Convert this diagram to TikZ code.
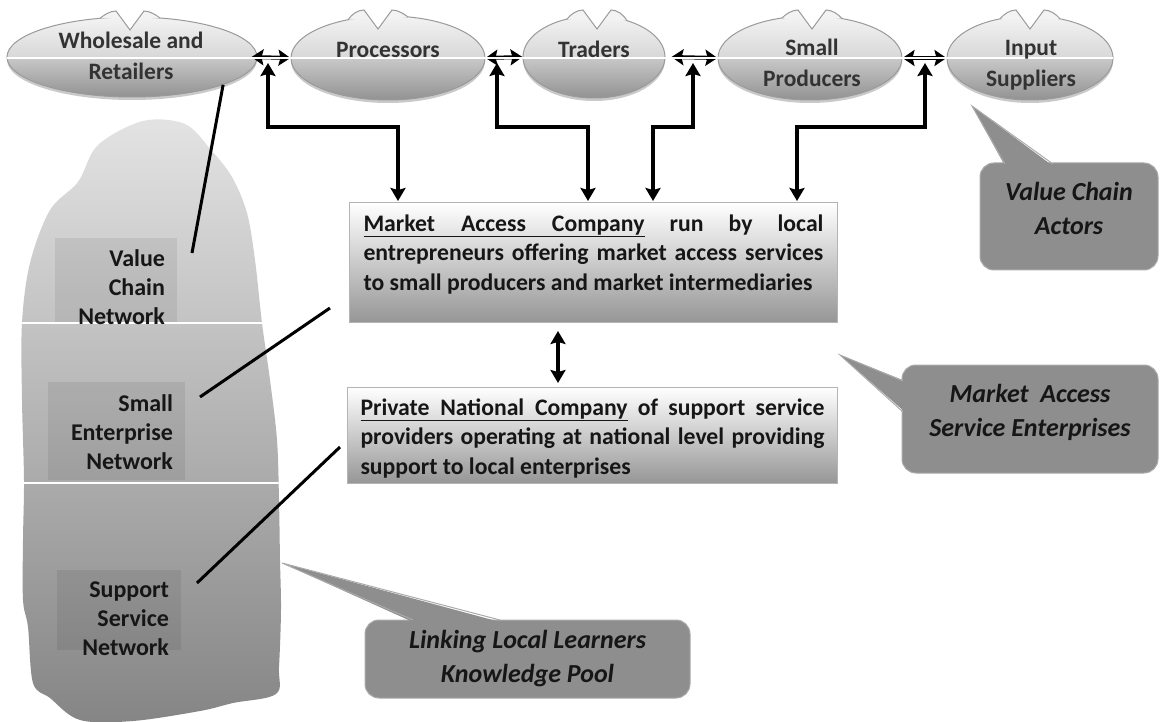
\documentclass[tikz,border=0pt]{standalone}
\usepackage{fontspec}
\setmainfont{Carlito}
\usetikzlibrary{arrows.meta,shapes.geometric,calc,shadows}
\definecolor{e1}{HTML}{F3F3F3}
\definecolor{e2}{HTML}{D8D8D8}
\definecolor{e3}{HTML}{C8C8C8}
\definecolor{e4}{HTML}{929292}
\definecolor{edgec}{HTML}{9A9A9A}
\definecolor{txt}{HTML}{161616}
\definecolor{elltxt}{HTML}{333333}
\definecolor{boxbot}{HTML}{969696}
\definecolor{boxedge}{HTML}{B4B4B4}
\definecolor{ice1}{HTML}{E3E3E3}
\definecolor{ice2}{HTML}{858585}
\definecolor{callfill}{HTML}{8E8E8E}
\definecolor{calledge}{HTML}{AAAAAA}
\pgfdeclareverticalshading{ellsh}{100bp}{color(0bp)=(e4); color(25bp)=(e4); color(49.7bp)=(e3); color(50.3bp)=(e2); color(75bp)=(e1); color(100bp)=(e1)}
\newcommand\ellnotch[5]{%
  \pgfmathsetmacro\nLy{#2-#4*sqrt(1-((#5-30-#1)/#3)^2)}%
  \pgfmathsetmacro\nRy{#2-#4*sqrt(1-((#5+30-#1)/#3)^2)}%
  \pgfmathsetmacro\nT{#2-#4}%
  \fill[e1] ({#5-30},\nLy) .. controls ({#5-26},{\nT-2}) and ({#5-20},{\nT-6}) .. ({#5-14},{\nT-6})
     -- ({#5},{\nT+13}) -- ({#5+14},{\nT-6}) .. controls ({#5+20},{\nT-6}) and ({#5+26},{\nT-2}) .. ({#5+30},\nRy) -- cycle;
  \fill[white] ({#5-14},{\nT-6}) -- ({#5},{\nT+13}) -- ({#5+14},{\nT-6}) -- cycle;
  \draw[edgec,line width=1pt] ({#5-30},\nLy) .. controls ({#5-26},{\nT-2}) and ({#5-20},{\nT-6}) .. ({#5-14},{\nT-6})
     -- ({#5},{\nT+13}) -- ({#5+14},{\nT-6}) .. controls ({#5+20},{\nT-6}) and ({#5+26},{\nT-2}) .. ({#5+30},\nRy);
}
\tikzset{
  ell/.style={ellipse, draw=edgec, line width=1pt, shading=ellsh, inner sep=0pt,
    drop shadow={shadow xshift=0pt, shadow yshift=-3pt, opacity=.35, fill=black!60}},
  elltext/.style={inner sep=0pt, text=elltxt, font=\fontsize{23.5}{31}\selectfont\bfseries, align=center},
  dbl/.style={line width=4pt, {Stealth[length=12pt,width=16pt,inset=2pt]}-{Stealth[length=12pt,width=16pt,inset=2pt]}},
  bent/.style={line width=4.5pt, {Stealth[length=13pt,width=15pt,inset=2pt]}-{Stealth[length=13pt,width=15pt,inset=2pt]}},
  infobox/.style={draw=boxedge, line width=1pt, top color=white, bottom color=boxbot, inner sep=0pt,
    anchor=north west, text=txt, font=\fontsize{23.7}{29.5}\selectfont\bfseries},
  lab/.style={align=right, inner sep=0pt, text=txt, font=\fontsize{24}{29}\selectfont\bfseries},
  labrect/.style={fill=black, fill opacity=0.07},
  lblline/.style={line width=3pt, black},
  callout/.style={draw=calledge, line width=1pt, fill=callfill, rounded corners=14pt, text=txt,
    align=center, font=\fontsize{26}{34}\selectfont\bfseries\itshape},
  ptr/.style={fill=callfill},
  ptredge/.style={draw=calledge, line width=1pt}
}
\begin{document}
\begin{tikzpicture}[x=1pt,y=-1pt]
\useasboundingbox (0,0) rectangle (1160,722);
\fill[white] (0,0) rectangle (1160,722);

% iceberg
\shade[top color=ice1,bottom color=ice2] plot[smooth cycle,tension=0.55] coordinates {
 (143,121) (185,124) (211,150) (232,177) (247,213) (255,260) (262,323) (270,380) (277,440)
 (279,500) (280,560) (281,610) (279,667) (276,694) (233,703) (200,711) (133,721) (80,720)
 (50,698) (33,683) (28,627) (23,600) (23,540) (24,480) (22,400) (22,323) (30,263) (50,210)
 (78,182) (98,145)};
\begin{scope}
\clip plot[smooth cycle,tension=0.55] coordinates {
 (143,121) (185,124) (211,150) (232,177) (247,213) (255,260) (262,323) (270,380) (277,440)
 (279,500) (280,560) (281,610) (279,667) (276,694) (233,703) (200,711) (133,721) (80,720)
 (50,698) (33,683) (28,627) (23,600) (23,540) (24,480) (22,400) (22,323) (30,263) (50,210)
 (78,182) (98,145)};
\draw[white,line width=1.6pt] (0,323) -- (300,323);
\draw[white,line width=1.6pt] (0,483) -- (300,483);
\end{scope}
\fill[labrect] (55,238) rectangle (177,322);
\fill[labrect] (48,382) rectangle (185,480);
\fill[labrect] (57,570) rectangle (181,650);
\node[lab, text width=110] (vcn) at (110,287) {Value\\Chain\\Network};
\node[lab, text width=126] (sen) at (110,432) {Small\\Enterprise\\Network};
\node[lab, text width=110] (ssn) at (114,619) {Support\\Service\\Network};

% value chain actors
\node[ell, minimum width=250, minimum height=80] (W) at (132,57) {};
\node[ell, minimum width=194, minimum height=84] (P) at (388,58) {};
\node[ell, minimum width=142, minimum height=82] (T) at (594,57) {};
\node[ell, minimum width=184, minimum height=84] (S) at (810,58) {};
\node[ell, minimum width=166, minimum height=84] (I) at (1030,58) {};
\ellnotch{132}{57}{125}{40}{130}
\ellnotch{388}{58}{97}{42}{378}
\ellnotch{594}{57}{71}{41}{597}
\ellnotch{810}{58}{92}{42}{812}
\ellnotch{1030}{58}{83}{42}{1030}

% boxes
\node[infobox, minimum width=488, minimum height=120] (mac) at (349,202) {\parbox[c][120pt][t]{460pt}{%
  \vspace*{12pt}%
  \hbox to 460pt{\underline{\hbox to 281pt{Market\hfill Access\hfill Company}}\hfill run\hfill by\hfill local}
  \hbox to 460pt{entrepreneurs\hfill offering\hfill market\hfill access\hfill services}
  \hbox{to small producers and market intermediaries}}};
\node[infobox, minimum width=490, minimum height=96] (pnc) at (347,387) {\parbox[c][96pt][t]{464pt}{%
  \vspace*{11pt}%
  \hbox to 464pt{\underline{\hbox to 267pt{Private\hfill National\hfill Company}}\hfill of\hfill support\hfill service}
  \hbox to 464pt{providers\hfill operating\hfill at\hfill national\hfill level\hfill providing}
  \hbox{support to local enterprises}}};

% horizontal double arrows
\draw[dbl] ([xshift=-6pt]W.east) -- (P.west);
\draw[dbl] (P.east) -- (T.west);
\draw[dbl] ([xshift=6pt]T.east) -- (S.west);
\draw[dbl] (S.east) -- (I.west);

% bent arrows
\coordinate (c1) at (268,63); \coordinate (d1) at (398,0);
\coordinate (c2) at (497,63); \coordinate (d2) at (588,0);
\coordinate (c3) at (693,63); \coordinate (d3) at (653,0);
\coordinate (c4) at (925,63); \coordinate (d4) at (797,0);
\draw[bent] (c1) |- (398,127) -- ([yshift=1pt]d1 |- mac.north);
\draw[bent] (c2) |- (588,127) -- ([yshift=1pt]d2 |- mac.north);
\draw[bent] (c3) |- (653,127) -- ([yshift=1pt]d3 |- mac.north);
\draw[bent] (c4) |- (797,127) -- ([yshift=1pt]d4 |- mac.north);

% white midline through the top row
\draw[white,line width=1.2pt] (7,58) -- (1113,58);

% ellipse texts
\node[elltext] (Wt) at (131,56) {Wholesale and\\Retailers};
\node[elltext] (Pt) at (388,50) {Processors};
\node[elltext] (Tt) at (594,49) {Traders};
\node[elltext] (St) at (812,63) {Small\\Producers};
\node[elltext] (It) at (1031,65) {Input\\Suppliers};

% arrow between boxes
\coordinate (m) at (558,0);
\draw[line width=4.5pt, {Stealth[length=13pt,width=15pt,inset=2pt]}-{Stealth[length=13pt,width=15pt,inset=2pt]}]
  ([yshift=-8pt]m |- mac.south) -- ([yshift=4pt]m |- pnc.north);

% leader lines from iceberg labels
\coordinate (v1) at (192,253);
\coordinate (v2) at (200,397); \coordinate (v2e) at (330,308);
\coordinate (v3) at (197,583); \coordinate (v3e) at (340,447);
\draw[lblline] (v1) -- (W.-17);
\draw[lblline] (v2) -- (v2e);
\draw[lblline] (v3) -- (v3e);

% callouts
\node[callout, minimum width=178, minimum height=107] (vca) at (1069,216.5) {Value Chain\\Actors\rule[-17pt]{0pt}{1pt}};
\coordinate (t1) at (972,106);
\fill[ptr] (t1) -- (1005,166) -- (1053,166) -- cycle;
\draw[ptredge] (1005,164) -- (t1) -- (1053,164);

\node[callout, minimum width=256, minimum height=108] (mase) at (1030,419) {Market~ Access\\Service Enterprises\rule[-17pt]{0pt}{1pt}};
\coordinate (t2) at (840,355);
\fill[ptr] (t2) -- (905,381) -- (905,412) -- cycle;
\draw[ptredge] (903,381) -- (t2) -- (903,412);

\node[callout, minimum width=325, minimum height=78] (lll) at (527.5,659) {Linking Local Learners\\Knowledge Pool};
\coordinate (t3) at (282,563);
\fill[ptr] (t3) -- (413,622) -- (500,622) -- cycle;
\draw[ptredge] (413,620) -- (t3) -- (500,620);
\end{tikzpicture}
\end{document}
